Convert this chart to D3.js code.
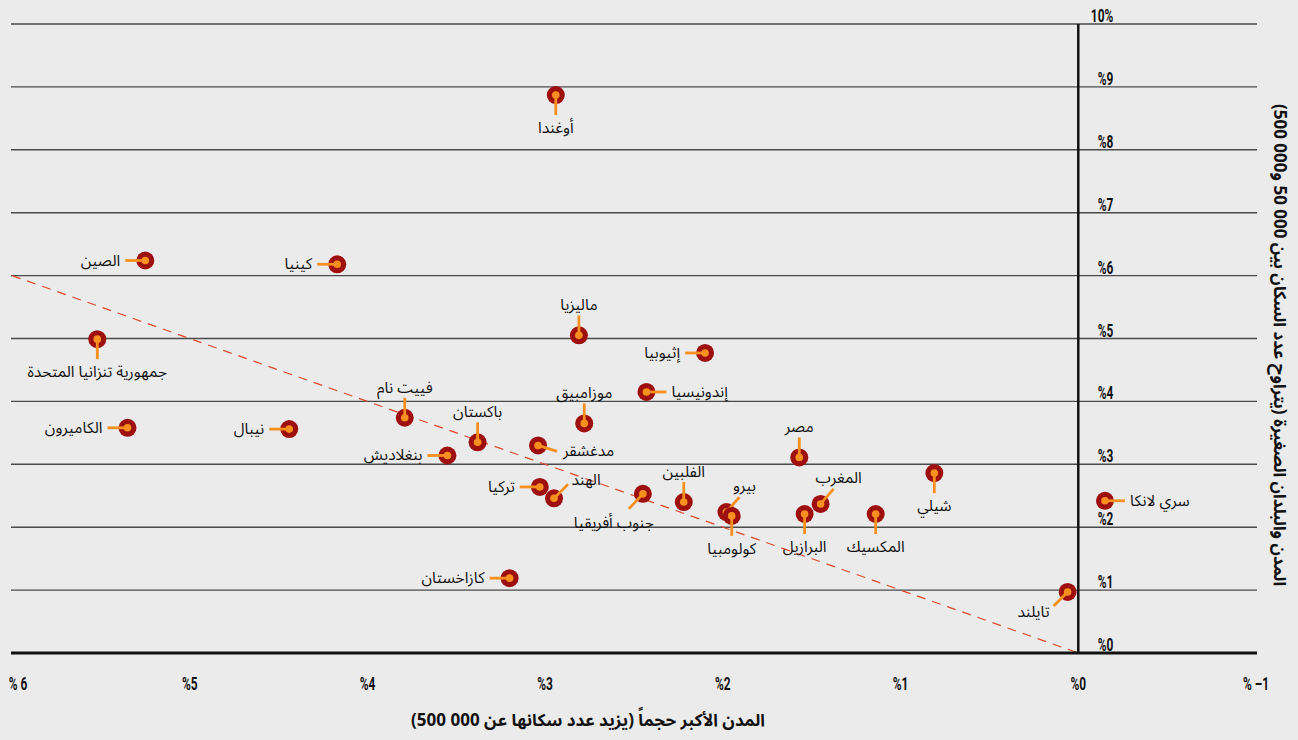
<!DOCTYPE html>
<html>
<head>
<meta charset="utf-8">
<script src="https://cdn.jsdelivr.net/npm/d3@7/dist/d3.min.js"></script>
<style>
  html, body { margin: 0; padding: 0; background: #ebebeb; }
  svg { display: block; }
  .tick-label { font-family: Roboto, "Liberation Sans", sans-serif; font-size: 18px; font-weight: 700; fill: #111; }
  .lbl { font-family: "Noto Sans Arabic", "Noto Sans", "DejaVu Sans", sans-serif; font-size: 15.5px; fill: #111; }
  .title { font-family: "Noto Sans Arabic", "Noto Sans", "DejaVu Sans", sans-serif; font-size: 17px; font-weight: bold; fill: #111; }
</style>
</head>
<body>
<script>
// ---------- data ----------
const countries = ["أوغندا","الصين","كينيا","ماليزيا","جمهورية تنزانيا المتحدة","إثيوبيا","إندونيسيا","موزامبيق","فييت نام","باكستان","بنغلاديش","مدغشقر","الكاميرون","نيبال","مصر","شيلي","سري لانكا","تركيا","الهند","جنوب أفريقيا","الفلبين","بيرو","كولومبيا","المغرب","البرازيل","المكسيك","كازاخستان","تايلند"];
// growth of largest cities (>500 000), %
const largeCityGrowth = [2.94,5.25,4.17,2.81,5.52,2.10,2.43,2.78,3.79,3.38,3.55,3.04,5.35,4.44,1.57,0.81,-0.15,3.03,2.95,2.45,2.22,1.98,1.95,1.45,1.54,1.14,3.20,0.06];
// growth of small cities and towns (50 000 – 500 000), %
const smallCityGrowth = [8.87,6.24,6.18,5.05,4.99,4.77,4.15,3.65,3.74,3.35,3.14,3.30,3.58,3.56,3.11,2.86,2.42,2.64,2.46,2.53,2.40,2.24,2.18,2.37,2.21,2.21,1.19,0.97];
// label side relative to its point
const labelSide = ["b","l","l","t","b","l","r","t","t","t","l","br","l","l","t","b","r","l","tr2","bl","t","tr","b","tr","b","b","l","bl2"];

const xTicks = [6,5,4,3,2,1,0,-1];
const xTickLabels = ["% 6","%5","%4","%3","%2","%1","%0","% –1"];
const yTicks = [0,1,2,3,4,5,6,7,8,9,10];
const yTickLabels = ["%0","%1","%2","%3","%4","%5","%6","%7","%8","%9","10%"];
const xTitle = "المدن الأكبر حجماً (يزيد عدد سكانها عن 500\u00A0000)";
const yTitle = "المدن والبلدان الصغيرة (يتراوح عدد السكان بين 50\u00A0000 و500\u00A0000)";

// ---------- layout ----------
const W = 1298, H = 740;
const svg = d3.select("body").append("svg").attr("width", W).attr("height", H);
svg.append("rect").attr("width", W).attr("height", H).attr("fill", "#ebebeb");

const x = d3.scaleLinear().domain([6, -1]).range([12, 1256]);
const y = d3.scaleLinear().domain([0, 10]).range([653, 24]);
const SX = 0.66; // condensed look for tick labels

// horizontal gridlines
svg.append("g").selectAll("line").data(yTicks.filter(d => d > 0)).join("line")
  .attr("x1", x(6) - 1).attr("x2", x(-1) + 1)
  .attr("y1", d => y(d)).attr("y2", d => y(d))
  .attr("stroke", "#4a4a4a").attr("stroke-width", 1.4);

// y tick labels
svg.append("g").selectAll("text").data(yTicks).join("text")
  .attr("class", "tick-label")
  .attr("direction", "ltr")
  .attr("text-anchor", "end")
  .attr("transform", d => `translate(${x(0) + 35},${y(d) - 2}) scale(${SX},1)`)
  .text((d, i) => yTickLabels[i]);

// x tick labels
svg.append("g").selectAll("text").data(xTicks).join("text")
  .attr("class", "tick-label")
  .attr("direction", "ltr")
  .attr("text-anchor", "middle")
  .attr("transform", (d, i) => `translate(${x(d) + (i === 0 ? 6 : 0)},690) scale(${SX},1)`)
  .text((d, i) => xTickLabels[i]);

// diagonal reference (equal growth)
svg.append("line")
  .attr("x1", x(6)).attr("y1", y(6))
  .attr("x2", x(0)).attr("y2", y(0))
  .attr("stroke", "#dd4a2c").attr("stroke-width", 1.2)
  .attr("stroke-dasharray", "9,7");

// axes
svg.append("line").attr("x1", x(0)).attr("x2", x(0)).attr("y1", y(10)).attr("y2", y(0))
  .attr("stroke", "#111").attr("stroke-width", 2.5);
svg.append("line").attr("x1", x(6) - 1).attr("x2", x(-1) + 1).attr("y1", y(0)).attr("y2", y(0))
  .attr("stroke", "#111").attr("stroke-width", 3);

// points
const pts = countries.map((c, i) => ({ name: c, gx: largeCityGrowth[i], gy: smallCityGrowth[i], side: labelSide[i] }));
const leader = {
  l:  [-20, 0], r: [20, 0], t: [0, -20], b: [0, 20],
  tr: [13, -15], tr2: [14, -14], bl: [-14, 15], bl2: [-14, 14], br: [19, 6]
};

const g = svg.append("g");
const node = g.selectAll("g.pt").data(pts).join("g").attr("class", "pt")
  .attr("transform", d => `translate(${x(d.gx)},${y(d.gy)})`);

node.append("circle").attr("r", 9).attr("fill", "#9e1010");
node.append("line")
  .attr("x1", 0).attr("y1", 0)
  .attr("x2", d => leader[d.side][0]).attr("y2", d => leader[d.side][1])
  .attr("stroke", "#f7901e").attr("stroke-width", 2.8);
node.append("circle").attr("r", 3.8).attr("fill", "#f7901e");

node.append("text").attr("class", "lbl")
  .attr("direction", "rtl")
  .each(function (d) {
    const [ex, ey] = leader[d.side];
    const t = d3.select(this);
    let tx, ty, anchor;
    switch (d.side) {
      case "l": tx = ex - 5; ty = ey + 5; anchor = "start"; break;   // rtl: start = right edge
      case "r": tx = ex + 5; ty = ey + 5; anchor = "end"; break;
      case "t": tx = ex; ty = ey - 5; anchor = "middle"; break;
      case "b": tx = ex; ty = ey + 18; anchor = "middle"; break;
      case "tr": tx = ex + 5; ty = ey - 6; anchor = "middle"; break;
      case "tr2": tx = ex + 18; ty = ey + 1; anchor = "middle"; break;
      case "bl": tx = ex - 15; ty = ey + 19; anchor = "middle"; break;
      case "bl2": tx = ex - 20; ty = ey + 11; anchor = "middle"; break;
      case "br": tx = ex + 6; ty = ey + 5; anchor = "end"; break;
    }
    t.attr("x", tx).attr("y", ty).attr("text-anchor", anchor).text(d.name);
  });

// axis titles
svg.append("text").attr("class", "title")
  .attr("direction", "rtl")
  .attr("text-anchor", "middle")
  .attr("x", 588).attr("y", 726)
  .text(xTitle);

svg.append("text").attr("class", "title")
  .attr("direction", "rtl")
  .attr("text-anchor", "middle")
  .attr("transform", "translate(1274,345) rotate(90)")
  .text(yTitle);
</script>
</body>
</html>
